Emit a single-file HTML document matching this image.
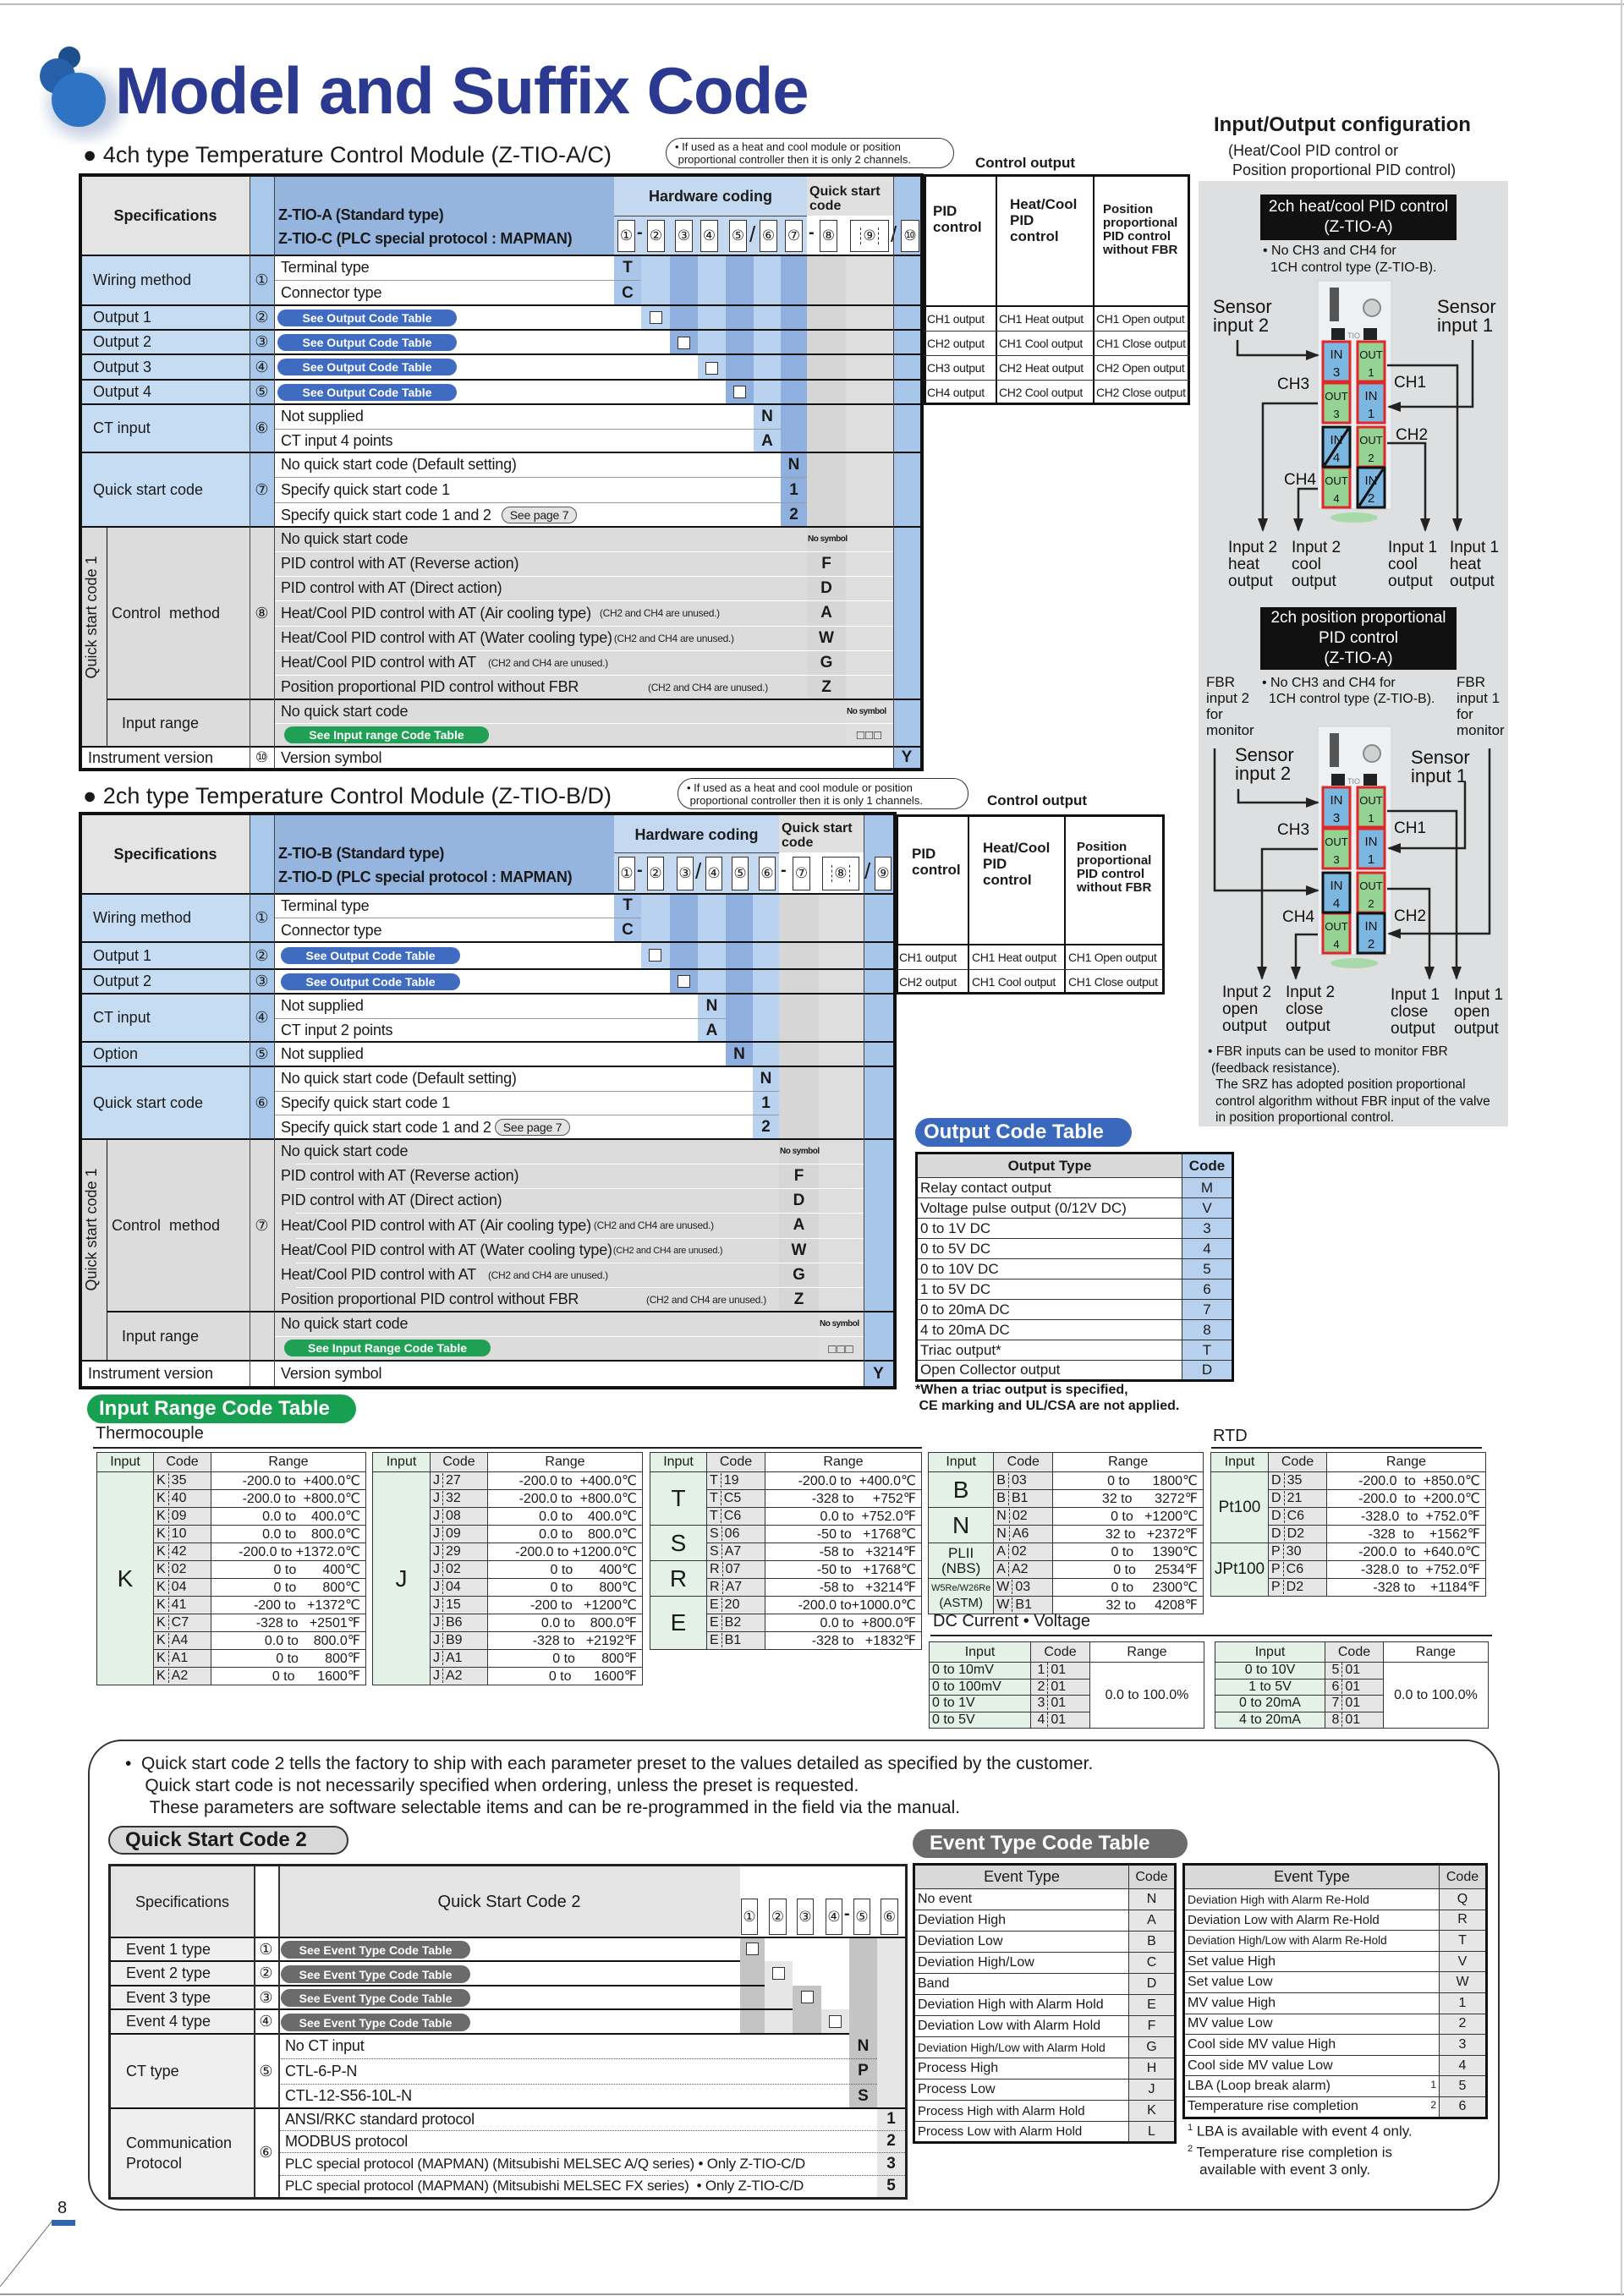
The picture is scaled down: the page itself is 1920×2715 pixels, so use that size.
<!DOCTYPE html>
<html><head><meta charset="utf-8">
<style>
*{margin:0;padding:0;box-sizing:border-box}
body{width:1920px;height:2715px;position:relative;background:#fff;font-family:"Liberation Sans","DejaVu Sans",sans-serif;color:#1a1a1a;overflow:hidden}
.c{position:absolute;display:flex;align-items:center;white-space:nowrap;overflow:hidden}
.x{justify-content:center;text-align:center}
.b{font-weight:bold}
.d{font-size:18px;padding-left:8px;letter-spacing:-.2px}
.s{font-size:18px;padding-left:14px}
.k{font-size:19px;font-weight:bold;justify-content:center}
.bx{position:absolute;width:15px;height:15px;border:1.5px solid #333;background:#fff}
.pill{position:absolute;border-radius:12px;color:#fff;font-weight:bold;font-size:14px;display:flex;align-items:center;justify-content:center;white-space:nowrap}
.hl{position:absolute;height:2px;background:#111}
.tl{position:absolute;height:1px;background:#9a9a9a}
.cn{position:absolute;background:#fff;border:1.5px solid #333;display:flex;align-items:center;justify-content:center;font-size:17px}
.sep{position:absolute;font-size:20px;font-weight:bold}
.w{background:#fff}
.g{background:#dcdcdc}
.ns{font-size:10px;letter-spacing:-.5px;overflow:visible;justify-content:flex-start;padding-left:1px}
.sm{font-size:12px;letter-spacing:-.3px;color:#222}
table{border-collapse:collapse;position:absolute;font-size:16px}
td{border:1px solid #333;white-space:nowrap;padding:0 3px;overflow:hidden}
.ig{background:#e3f1e6;text-align:center}
.cg{background:#e6e6e6}
.rg{text-align:right;padding-right:6px}
.dash{border-left:1px dashed #333;padding-left:3px;margin-left:3px}
.co{font-size:14px;line-height:29px;display:block;letter-spacing:-.3px}
</style></head><body>

<div style="position:absolute;left:0;top:4px;width:1920px;height:2px;background:#bbb"></div>
<div style="position:absolute;left:0;top:2712px;width:1920px;height:2px;background:#999"></div>
<div style="position:absolute;left:1916px;top:0;width:2px;height:2715px;background:#ccc"></div>

<svg style="position:absolute;left:0;top:0" width="200" height="200">
<defs><filter id="bl"><feGaussianBlur stdDeviation="8"/></filter></defs>
<ellipse cx="100" cy="125" rx="44" ry="38" fill="#8fa3c8" opacity=".5" filter="url(#bl)"/>
<circle cx="82" cy="68" r="13" fill="#1d4f8c"/>
<circle cx="68" cy="90" r="21" fill="#2660a8"/>
<circle cx="93" cy="118" r="32" fill="#2f74c4"/>
</svg>
<div style="position:absolute;left:136px;top:62px;font-size:78px;font-weight:bold;color:#2b3990;white-space:nowrap;letter-spacing:-1px">Model and Suffix Code</div>

<div style="position:absolute;left:98px;top:168px;font-size:27px;white-space:nowrap">● 4ch type Temperature Control Module (Z-TIO-A/C)</div>
<div style="position:absolute;left:787px;top:163px;width:341px;height:36px;border:1.5px solid #333;border-radius:18px;font-size:13px;line-height:15px;padding:2px 0 0 10px;white-space:nowrap">• If used as a heat and cool module or position<br>&nbsp;proportional controller then it is only 2 channels.</div>
<div style="position:absolute;left:1153px;top:183px;font-size:17px;font-weight:bold">Control output</div>

<!-- TABLE 1 -->
<div class="c x b" style="left:96px;top:208px;width:199px;height:94px;background:#e4e4e4;font-size:18px">Specifications</div>
<div class="c" style="left:295px;top:208px;width:29px;height:701px;background:#a9c8ea"></div>
<div class="c b" style="left:324px;top:208px;width:402px;height:94px;background:#95b5df;font-size:18px;padding-left:5px;line-height:28px;align-items:flex-end;padding-bottom:6px;letter-spacing:-.3px">Z-TIO-A (Standard type)<br>Z-TIO-C (PLC special protocol : MAPMAN)</div>
<div class="c x b" style="left:726px;top:208px;width:228px;height:94px;background:#c4d8f0;font-size:18px;align-items:flex-start;padding-top:14px">Hardware coding</div>
<div style="position:absolute;left:726px;top:255px;width:228px;height:1px;background:#444"></div>
<div class="c b" style="left:954px;top:208px;width:102px;height:94px;background:#e0e0e0;font-size:16px;line-height:17px;align-items:flex-start;padding:10px 0 0 3px">Quick start<br>code</div>
<div style="position:absolute;left:954px;top:255px;width:102px;height:47px;background:#fff"></div>
<div class="c" style="left:1056px;top:208px;width:32px;height:701px;background:#a7c6ea"></div>
<div class="c" style="left:726px;top:302px;width:32px;height:607px;background:#a9c5ea"></div>
<div class="c" style="left:758px;top:302px;width:34px;height:607px;background:#b9d2ef"></div>
<div class="c" style="left:792px;top:302px;width:33px;height:607px;background:#8fb0de"></div>
<div class="c" style="left:825px;top:302px;width:33px;height:607px;background:#b9d2ef"></div>
<div class="c" style="left:858px;top:302px;width:33px;height:607px;background:#8fb0de"></div>
<div class="c" style="left:891px;top:302px;width:32px;height:607px;background:#b9d2ef"></div>
<div class="c" style="left:923px;top:302px;width:31px;height:607px;background:#8fb0de"></div>
<div class="c" style="left:954px;top:302px;width:46px;height:607px;background:#d6d6d6"></div>
<div class="c" style="left:1000px;top:302px;width:56px;height:607px;background:#dedede"></div>
<div class="cn" style="left:730px;top:260px;width:21px;height:38px">①</div>
<div class="sep" style="left:753px;top:264px">-</div>
<div class="cn" style="left:765px;top:260px;width:21px;height:38px">②</div>
<div class="cn" style="left:798px;top:260px;width:21px;height:38px">③</div>
<div class="cn" style="left:828px;top:260px;width:21px;height:38px">④</div>
<div class="cn" style="left:862px;top:260px;width:21px;height:38px">⑤</div>
<div class="sep" style="left:886px;top:262px;font-size:26px;font-weight:normal">/</div>
<div class="cn" style="left:898px;top:260px;width:21px;height:38px">⑥</div>
<div class="cn" style="left:928px;top:260px;width:21px;height:38px">⑦</div>
<div class="sep" style="left:956px;top:264px">-</div>
<div class="cn" style="left:969px;top:260px;width:21px;height:38px">⑧</div>
<div class="cn" style="left:1005px;top:260px;width:46px;height:38px"><span style="border-left:1px dashed #333;border-right:1px dashed #333;padding:0 2px">⑨</span></div>
<div class="sep" style="left:1053px;top:262px;font-size:26px;font-weight:normal">/</div>
<div class="cn" style="left:1065px;top:260px;width:22px;height:38px;font-size:17px">⑩</div>

<div class="c s" style="left:96px;top:302px;width:199px;height:59px;background:#c6dcf2">Wiring method</div>
<div class="c x" style="left:295px;top:302px;width:29px;height:59px;font-size:18px">①</div>
<div class="c d w" style="left:324px;top:302px;width:402px;height:29px">Terminal type</div>
<div class="c k" style="left:726px;top:302px;width:32px;height:29px">T</div>
<div class="tl" style="left:324px;top:331px;width:434px"></div>
<div class="c d w" style="left:324px;top:332px;width:402px;height:29px">Connector type</div>
<div class="c k" style="left:726px;top:332px;width:32px;height:29px">C</div>
<div class="c s" style="left:96px;top:361px;width:199px;height:29px;background:#c6dcf2">Output 1</div>
<div class="c x" style="left:295px;top:361px;width:29px;height:29px;font-size:18px">②</div>
<div class="c w" style="left:324px;top:361px;width:434px;height:29px"></div>
<div class="pill" style="left:328px;top:366px;width:212px;height:20px;background:#3f6cc0">See Output Code Table</div>
<div class="bx" style="left:768px;top:368px"></div>
<div class="c s" style="left:96px;top:390px;width:199px;height:29px;background:#c6dcf2">Output 2</div>
<div class="c x" style="left:295px;top:390px;width:29px;height:29px;font-size:18px">③</div>
<div class="c w" style="left:324px;top:390px;width:468px;height:29px"></div>
<div class="pill" style="left:328px;top:395px;width:212px;height:20px;background:#3f6cc0">See Output Code Table</div>
<div class="bx" style="left:801px;top:398px"></div>
<div class="c s" style="left:96px;top:419px;width:199px;height:30px;background:#c6dcf2">Output 3</div>
<div class="c x" style="left:295px;top:419px;width:29px;height:30px;font-size:18px">④</div>
<div class="c w" style="left:324px;top:419px;width:501px;height:30px"></div>
<div class="pill" style="left:328px;top:424px;width:212px;height:20px;background:#3f6cc0">See Output Code Table</div>
<div class="bx" style="left:834px;top:428px"></div>
<div class="c s" style="left:96px;top:449px;width:199px;height:29px;background:#c6dcf2">Output 4</div>
<div class="c x" style="left:295px;top:449px;width:29px;height:29px;font-size:18px">⑤</div>
<div class="c w" style="left:324px;top:449px;width:534px;height:29px"></div>
<div class="pill" style="left:328px;top:454px;width:212px;height:20px;background:#3f6cc0">See Output Code Table</div>
<div class="bx" style="left:867px;top:456px"></div>
<div class="c s" style="left:96px;top:478px;width:199px;height:57px;background:#c6dcf2">CT input</div>
<div class="c x" style="left:295px;top:478px;width:29px;height:57px;font-size:18px">⑥</div>
<div class="c d w" style="left:324px;top:478px;width:567px;height:29px">Not supplied</div>
<div class="c k" style="left:891px;top:478px;width:32px;height:29px">N</div>
<div class="tl" style="left:324px;top:507px;width:599px"></div>
<div class="c d w" style="left:324px;top:508px;width:567px;height:27px">CT input 4 points</div>
<div class="c k" style="left:891px;top:508px;width:32px;height:27px">A</div>
<div class="c s" style="left:96px;top:535px;width:199px;height:88px;background:#c6dcf2">Quick start code</div>
<div class="c x" style="left:295px;top:535px;width:29px;height:88px;font-size:18px">⑦</div>
<div class="c d w" style="left:324px;top:535px;width:599px;height:29px">No quick start code (Default setting)</div>
<div class="c k" style="left:923px;top:535px;width:31px;height:29px">N</div>
<div class="tl" style="left:324px;top:564px;width:630px"></div>
<div class="c d w" style="left:324px;top:565px;width:599px;height:29px">Specify quick start code 1</div>
<div class="c k" style="left:923px;top:565px;width:31px;height:29px">1</div>
<div class="tl" style="left:324px;top:594px;width:630px"></div>
<div class="c d w" style="left:324px;top:595px;width:599px;height:28px">Specify quick start code 1 and 2 <span style="margin-left:12px;font-size:14px;border:1px solid #555;border-radius:10px;background:#e4e4e4;padding:1px 9px">See page 7</span></div>
<div class="c k" style="left:923px;top:595px;width:31px;height:28px">2</div>
<div class="c g" style="left:96px;top:623px;width:30px;height:260px"></div>
<div style="position:absolute;left:98px;top:860px;width:260px;height:26px;transform:rotate(-90deg);transform-origin:0 0;font-size:18px;text-align:center;white-space:nowrap">Quick start code 1</div>
<div class="c g" style="left:126px;top:623px;width:169px;height:204px;font-size:18px;padding-left:6px">Control&nbsp; method</div>
<div class="c x g" style="left:295px;top:623px;width:29px;height:286px;align-items:flex-start;padding-top:92px;font-size:18px">⑧</div>
<div class="c g" style="left:324px;top:623px;width:630px;height:204px"></div>
<div class="c d" style="left:324px;top:623px;width:630px;height:29px">No quick start code</div>
<div class="c b ns" style="left:954px;top:623px;width:46px;height:29px">No symbol</div>
<div class="c d" style="left:324px;top:652px;width:630px;height:29px">PID control with AT (Reverse action)</div>
<div class="c k" style="left:954px;top:652px;width:46px;height:29px">F</div>
<div class="c d" style="left:324px;top:681px;width:630px;height:29px">PID control with AT (Direct action)</div>
<div class="c k" style="left:954px;top:681px;width:46px;height:29px">D</div>
<div class="c d" style="left:324px;top:710px;width:630px;height:30px">Heat/Cool PID control with AT (Air cooling type) <span class="sm" style="margin-left:10px">(CH2 and CH4 are unused.)</span></div>
<div class="c k" style="left:954px;top:710px;width:46px;height:30px">A</div>
<div class="c d" style="left:324px;top:740px;width:630px;height:29px">Heat/Cool PID control with AT (Water cooling type)<span class="sm" style="margin-left:2px">(CH2 and CH4 are unused.)</span></div>
<div class="c k" style="left:954px;top:740px;width:46px;height:29px">W</div>
<div class="c d" style="left:324px;top:769px;width:630px;height:29px">Heat/Cool PID control with AT <span class="sm" style="margin-left:14px">(CH2 and CH4 are unused.)</span></div>
<div class="c k" style="left:954px;top:769px;width:46px;height:29px">G</div>
<div class="c d" style="left:324px;top:798px;width:630px;height:29px">Position proportional PID control without FBR <span class="sm" style="position:absolute;left:442px">(CH2 and CH4 are unused.)</span></div>
<div class="c k" style="left:954px;top:798px;width:46px;height:29px">Z</div>
<div class="tl" style="left:324px;top:652px;width:732px;background:#fff"></div>
<div class="tl" style="left:324px;top:681px;width:732px;background:#fff"></div>
<div class="tl" style="left:324px;top:710px;width:732px;background:#fff"></div>
<div class="tl" style="left:324px;top:740px;width:732px;background:#fff"></div>
<div class="tl" style="left:324px;top:769px;width:732px;background:#fff"></div>
<div class="tl" style="left:324px;top:798px;width:732px;background:#fff"></div>
<div class="c g" style="left:126px;top:827px;width:169px;height:56px;font-size:18px;padding-left:18px">Input range</div>
<div class="c g" style="left:324px;top:827px;width:676px;height:56px"></div>
<div class="c d" style="left:324px;top:827px;width:676px;height:28px">No quick start code</div>
<div class="c b ns" style="left:1000px;top:827px;width:56px;height:28px">No symbol</div>
<div class="tl" style="left:324px;top:855px;width:732px;background:#fff"></div>
<div class="pill" style="left:336px;top:859px;width:242px;height:20px;background:#1fa055">See Input range Code Table</div>
<div class="c x" style="left:1000px;top:856px;width:56px;height:27px;font-size:15px;letter-spacing:1px">□□□</div>
<div class="c w" style="left:96px;top:883px;width:199px;height:26px;font-size:18px;padding-left:8px">Instrument version</div>
<div class="c x w" style="left:295px;top:883px;width:29px;height:26px;font-size:17px">⑩</div>
<div class="c d w" style="left:324px;top:883px;width:732px;height:26px">Version symbol</div>
<div class="c k" style="left:1056px;top:883px;width:32px;height:26px">Y</div>
<div class="hl" style="left:96px;top:301px;width:992px"></div>
<div class="hl" style="left:96px;top:360px;width:992px"></div>
<div class="hl" style="left:96px;top:389px;width:992px"></div>
<div class="hl" style="left:96px;top:418px;width:992px"></div>
<div class="hl" style="left:96px;top:448px;width:992px"></div>
<div class="hl" style="left:96px;top:477px;width:992px"></div>
<div class="hl" style="left:96px;top:534px;width:992px"></div>
<div class="hl" style="left:96px;top:622px;width:992px"></div>
<div class="hl" style="left:126px;top:826px;width:962px"></div>
<div class="hl" style="left:96px;top:882px;width:992px"></div>
<div style="position:absolute;left:126px;top:623px;width:1px;height:260px;background:#111"></div>
<div style="position:absolute;left:295px;top:208px;width:1px;height:701px;background:#444"></div>
<div style="position:absolute;left:324px;top:208px;width:1px;height:701px;background:#444"></div>
<div style="position:absolute;left:1056px;top:208px;width:1px;height:701px;background:#444"></div>
<div style="position:absolute;left:93px;top:205px;width:999px;height:707px;border:4px solid #111"></div>

<div style="position:absolute;left:1092px;top:206px;width:315px;height:273px;border:3px solid #111"></div>
<div class="c b" style="left:1103px;top:240px;font-size:17px;line-height:19px">PID<br>control</div>
<div class="c b" style="left:1194px;top:232px;font-size:17px;line-height:19px">Heat/Cool<br>PID<br>control</div>
<div class="c b" style="left:1304px;top:240px;font-size:15px;line-height:16px">Position<br>proportional<br>PID control<br>without FBR</div>
<div style="position:absolute;left:1177px;top:206px;width:2px;height:273px;background:#111"></div>
<div style="position:absolute;left:1292px;top:206px;width:2px;height:273px;background:#111"></div>
<div class="hl" style="left:1092px;top:361px;width:315px"></div>
<div class="tl" style="left:1092px;top:391px;width:315px;background:#333"></div>
<div class="tl" style="left:1092px;top:420px;width:315px;background:#333"></div>
<div class="tl" style="left:1092px;top:449px;width:315px;background:#333"></div>
<div class="c co" style="left:1096px;top:363px">CH1 output<br>CH2 output<br>CH3 output<br>CH4 output</div>
<div class="c co" style="left:1181px;top:363px">CH1 Heat output<br>CH1 Cool output<br>CH2 Heat output<br>CH2 Cool output</div>
<div class="c co" style="left:1296px;top:363px">CH1 Open output<br>CH1 Close output<br>CH2 Open output<br>CH2 Close output</div>

<div style="position:absolute;left:98px;top:926px;font-size:27px;white-space:nowrap">● 2ch type Temperature Control Module (Z-TIO-B/D)</div>
<div style="position:absolute;left:801px;top:920px;width:344px;height:37px;border:1.5px solid #333;border-radius:18px;font-size:13px;line-height:15px;padding:3px 0 0 10px;white-space:nowrap">• If used as a heat and cool module or position<br>&nbsp;proportional controller then it is only 1 channels.</div>
<div style="position:absolute;left:1167px;top:937px;font-size:17px;font-weight:bold">Control output</div>

<!-- TABLE 2 -->
<div class="c x b" style="left:96px;top:963px;width:199px;height:94px;background:#e4e4e4;font-size:18px">Specifications</div>
<div class="c" style="left:295px;top:963px;width:29px;height:677px;background:#a9c8ea"></div>
<div class="c b" style="left:324px;top:963px;width:402px;height:94px;background:#95b5df;font-size:18px;padding-left:5px;line-height:28px;align-items:flex-end;padding-bottom:6px;letter-spacing:-.3px">Z-TIO-B (Standard type)<br>Z-TIO-D (PLC special protocol : MAPMAN)</div>
<div class="c x b" style="left:726px;top:963px;width:195px;height:94px;background:#c4d8f0;font-size:18px;align-items:flex-start;padding-top:14px">Hardware coding</div>
<div style="position:absolute;left:726px;top:1008px;width:195px;height:1px;background:#444"></div>
<div class="c b" style="left:921px;top:963px;width:100px;height:94px;background:#e0e0e0;font-size:16px;line-height:17px;align-items:flex-start;padding:8px 0 0 3px">Quick start<br>code</div>
<div style="position:absolute;left:921px;top:1008px;width:100px;height:49px;background:#fff"></div>
<div class="c" style="left:1021px;top:963px;width:35px;height:677px;background:#a7c6ea"></div>
<div class="c" style="left:726px;top:1057px;width:32px;height:583px;background:#a9c5ea"></div>
<div class="c" style="left:758px;top:1057px;width:34px;height:583px;background:#b9d2ef"></div>
<div class="c" style="left:792px;top:1057px;width:33px;height:583px;background:#8fb0de"></div>
<div class="c" style="left:825px;top:1057px;width:33px;height:583px;background:#b9d2ef"></div>
<div class="c" style="left:858px;top:1057px;width:32px;height:583px;background:#8fb0de"></div>
<div class="c" style="left:890px;top:1057px;width:31px;height:583px;background:#b9d2ef"></div>
<div class="c" style="left:921px;top:1057px;width:47px;height:583px;background:#d6d6d6"></div>
<div class="c" style="left:968px;top:1057px;width:53px;height:583px;background:#dedede"></div>
<div class="cn" style="left:731px;top:1013px;width:20px;height:40px">①</div>
<div class="sep" style="left:753px;top:1018px">-</div>
<div class="cn" style="left:765px;top:1013px;width:20px;height:40px">②</div>
<div class="cn" style="left:800px;top:1013px;width:20px;height:40px">③</div>
<div class="sep" style="left:822px;top:1015px;font-size:26px;font-weight:normal">/</div>
<div class="cn" style="left:834px;top:1013px;width:20px;height:40px">④</div>
<div class="cn" style="left:865px;top:1013px;width:20px;height:40px">⑤</div>
<div class="cn" style="left:897px;top:1013px;width:20px;height:40px">⑥</div>
<div class="sep" style="left:923px;top:1018px">-</div>
<div class="cn" style="left:937px;top:1013px;width:21px;height:40px">⑦</div>
<div class="cn" style="left:972px;top:1013px;width:44px;height:40px"><span style="border-left:1px dashed #333;border-right:1px dashed #333;padding:0 2px">⑧</span></div>
<div class="sep" style="left:1022px;top:1015px;font-size:26px;font-weight:normal">/</div>
<div class="cn" style="left:1034px;top:1013px;width:20px;height:40px">⑨</div>
<div class="c s" style="left:96px;top:1057px;width:199px;height:57px;background:#c6dcf2">Wiring method</div>
<div class="c x" style="left:295px;top:1057px;width:29px;height:57px;font-size:18px">①</div>
<div class="c d w" style="left:324px;top:1057px;width:402px;height:28px">Terminal type</div>
<div class="c k" style="left:726px;top:1057px;width:32px;height:28px">T</div>
<div class="tl" style="left:324px;top:1085px;width:434px"></div>
<div class="c d w" style="left:324px;top:1086px;width:402px;height:28px">Connector type</div>
<div class="c k" style="left:726px;top:1086px;width:32px;height:28px">C</div>
<div class="c s" style="left:96px;top:1114px;width:199px;height:32px;background:#c6dcf2">Output 1</div>
<div class="c x" style="left:295px;top:1114px;width:29px;height:32px;font-size:18px">②</div>
<div class="c w" style="left:324px;top:1114px;width:434px;height:32px"></div>
<div class="pill" style="left:332px;top:1120px;width:212px;height:20px;background:#3f6cc0">See Output Code Table</div>
<div class="bx" style="left:767px;top:1122px"></div>
<div class="c s" style="left:96px;top:1146px;width:199px;height:29px;background:#c6dcf2">Output 2</div>
<div class="c x" style="left:295px;top:1146px;width:29px;height:29px;font-size:18px">③</div>
<div class="c w" style="left:324px;top:1146px;width:468px;height:29px"></div>
<div class="pill" style="left:332px;top:1151px;width:212px;height:20px;background:#3f6cc0">See Output Code Table</div>
<div class="bx" style="left:801px;top:1153px"></div>
<div class="c s" style="left:96px;top:1175px;width:199px;height:57px;background:#c6dcf2">CT input</div>
<div class="c x" style="left:295px;top:1175px;width:29px;height:57px;font-size:18px">④</div>
<div class="c d w" style="left:324px;top:1175px;width:501px;height:29px">Not supplied</div>
<div class="c k" style="left:825px;top:1175px;width:33px;height:29px">N</div>
<div class="tl" style="left:324px;top:1204px;width:534px"></div>
<div class="c d w" style="left:324px;top:1205px;width:501px;height:27px">CT input 2 points</div>
<div class="c k" style="left:825px;top:1205px;width:33px;height:27px">A</div>
<div class="c s" style="left:96px;top:1232px;width:199px;height:29px;background:#c6dcf2">Option</div>
<div class="c x" style="left:295px;top:1232px;width:29px;height:29px;font-size:18px">⑤</div>
<div class="c d w" style="left:324px;top:1232px;width:534px;height:29px">Not supplied</div>
<div class="c k" style="left:858px;top:1232px;width:32px;height:29px">N</div>
<div class="c s" style="left:96px;top:1261px;width:199px;height:86px;background:#c6dcf2">Quick start code</div>
<div class="c x" style="left:295px;top:1261px;width:29px;height:86px;font-size:18px">⑥</div>
<div class="c d w" style="left:324px;top:1261px;width:566px;height:29px">No quick start code (Default setting)</div>
<div class="c k" style="left:890px;top:1261px;width:31px;height:29px">N</div>
<div class="tl" style="left:324px;top:1290px;width:597px"></div>
<div class="c d w" style="left:324px;top:1291px;width:566px;height:27px">Specify quick start code 1</div>
<div class="c k" style="left:890px;top:1291px;width:31px;height:27px">1</div>
<div class="tl" style="left:324px;top:1318px;width:597px"></div>
<div class="c d w" style="left:324px;top:1319px;width:566px;height:28px">Specify quick start code 1 and 2<span style="margin-left:4px;font-size:14px;border:1px solid #555;border-radius:10px;background:#e4e4e4;padding:1px 9px">See page 7</span></div>
<div class="c k" style="left:890px;top:1319px;width:31px;height:28px">2</div>
<div class="c g" style="left:96px;top:1347px;width:30px;height:262px"></div>
<div style="position:absolute;left:98px;top:1585px;width:262px;height:26px;transform:rotate(-90deg);transform-origin:0 0;font-size:18px;text-align:center;white-space:nowrap">Quick start code 1</div>
<div class="c g" style="left:126px;top:1347px;width:169px;height:204px;font-size:18px;padding-left:6px">Control&nbsp; method</div>
<div class="c x g" style="left:295px;top:1347px;width:29px;height:262px;align-items:flex-start;padding-top:92px;font-size:18px">⑦</div>
<div class="c g" style="left:324px;top:1347px;width:597px;height:204px"></div>
<div class="c d" style="left:324px;top:1347px;width:597px;height:29px">No quick start code</div>
<div class="c b ns" style="left:921px;top:1347px;width:47px;height:29px">No symbol</div>
<div class="c d" style="left:324px;top:1376px;width:597px;height:29px">PID control with AT (Reverse action)</div>
<div class="c k" style="left:921px;top:1376px;width:47px;height:29px">F</div>
<div class="c d" style="left:324px;top:1405px;width:597px;height:29px">PID control with AT (Direct action)</div>
<div class="c k" style="left:921px;top:1405px;width:47px;height:29px">D</div>
<div class="c d" style="left:324px;top:1434px;width:597px;height:30px">Heat/Cool PID control with AT (Air cooling type) <span class="sm" style="margin-left:3px">(CH2 and CH4 are unused.)</span></div>
<div class="c k" style="left:921px;top:1434px;width:47px;height:30px">A</div>
<div class="c d" style="left:324px;top:1464px;width:597px;height:29px">Heat/Cool PID control with AT (Water cooling type)<span class="sm" style="margin-left:1px;font-size:11px">(CH2 and CH4 are unused.)</span></div>
<div class="c k" style="left:921px;top:1464px;width:47px;height:29px">W</div>
<div class="c d" style="left:324px;top:1493px;width:597px;height:29px">Heat/Cool PID control with AT <span class="sm" style="margin-left:14px">(CH2 and CH4 are unused.)</span></div>
<div class="c k" style="left:921px;top:1493px;width:47px;height:29px">G</div>
<div class="c d" style="left:324px;top:1522px;width:597px;height:29px">Position proportional PID control without FBR <span class="sm" style="position:absolute;left:440px">(CH2 and CH4 are unused.)</span></div>
<div class="c k" style="left:921px;top:1522px;width:47px;height:29px">Z</div>
<div class="tl" style="left:350px;top:1376px;width:671px;background:#fff"></div>
<div class="tl" style="left:350px;top:1405px;width:671px;background:#fff"></div>
<div class="tl" style="left:350px;top:1434px;width:671px;background:#fff"></div>
<div class="tl" style="left:350px;top:1464px;width:671px;background:#fff"></div>
<div class="tl" style="left:350px;top:1493px;width:671px;background:#fff"></div>
<div class="tl" style="left:350px;top:1522px;width:671px;background:#fff"></div>
<div class="c g" style="left:126px;top:1551px;width:169px;height:58px;font-size:18px;padding-left:18px">Input range</div>
<div class="c g" style="left:324px;top:1551px;width:644px;height:58px"></div>
<div class="c d" style="left:324px;top:1551px;width:644px;height:29px">No quick start code</div>
<div class="c b ns" style="left:968px;top:1551px;width:53px;height:29px">No symbol</div>
<div class="tl" style="left:324px;top:1580px;width:697px;background:#fff"></div>
<div class="pill" style="left:336px;top:1584px;width:244px;height:20px;background:#1fa055">See Input Range Code Table</div>
<div class="c x" style="left:968px;top:1581px;width:53px;height:28px;font-size:15px;letter-spacing:1px">□□□</div>
<div class="c w" style="left:96px;top:1609px;width:199px;height:31px;font-size:18px;padding-left:8px">Instrument version</div>
<div class="c w" style="left:295px;top:1609px;width:29px;height:31px"></div>
<div class="c d w" style="left:324px;top:1609px;width:697px;height:31px">Version symbol</div>
<div class="c k" style="left:1021px;top:1609px;width:35px;height:31px">Y</div>
<div class="hl" style="left:96px;top:1056px;width:960px"></div>
<div class="hl" style="left:96px;top:1113px;width:960px"></div>
<div class="hl" style="left:96px;top:1145px;width:960px"></div>
<div class="hl" style="left:96px;top:1174px;width:960px"></div>
<div class="hl" style="left:96px;top:1231px;width:960px"></div>
<div class="hl" style="left:96px;top:1260px;width:960px"></div>
<div class="hl" style="left:96px;top:1346px;width:960px"></div>
<div class="hl" style="left:126px;top:1550px;width:930px"></div>
<div class="hl" style="left:96px;top:1608px;width:960px"></div>
<div style="position:absolute;left:126px;top:1347px;width:1px;height:262px;background:#111"></div>
<div style="position:absolute;left:295px;top:963px;width:1px;height:677px;background:#444"></div>
<div style="position:absolute;left:324px;top:963px;width:1px;height:677px;background:#444"></div>
<div style="position:absolute;left:1021px;top:963px;width:1px;height:677px;background:#444"></div>
<div style="position:absolute;left:93px;top:960px;width:967px;height:683px;border:4px solid #111"></div>

<div style="position:absolute;left:1059px;top:963px;width:318px;height:213px;border:3px solid #111"></div>
<div class="c b" style="left:1078px;top:1000px;font-size:17px;line-height:19px">PID<br>control</div>
<div class="c b" style="left:1162px;top:993px;font-size:17px;line-height:19px">Heat/Cool<br>PID<br>control</div>
<div class="c b" style="left:1273px;top:994px;font-size:15px;line-height:16px">Position<br>proportional<br>PID control<br>without FBR</div>
<div style="position:absolute;left:1144px;top:963px;width:2px;height:213px;background:#111"></div>
<div style="position:absolute;left:1258px;top:963px;width:2px;height:213px;background:#111"></div>
<div class="hl" style="left:1059px;top:1116px;width:318px"></div>
<div class="tl" style="left:1059px;top:1146px;width:318px;background:#333"></div>
<div class="c co" style="left:1063px;top:1118px">CH1 output<br>CH2 output</div>
<div class="c co" style="left:1149px;top:1118px">CH1 Heat output<br>CH1 Cool output</div>
<div class="c co" style="left:1263px;top:1118px">CH1 Open output<br>CH1 Close output</div>

<!-- RIGHT PANEL -->
<div style="position:absolute;left:1417px;top:214px;width:366px;height:1118px;background:#dedfe0"></div>
<div style="position:absolute;left:1435px;top:134px;font-size:24px;font-weight:bold;white-space:nowrap">Input/Output configuration</div>
<div style="position:absolute;left:1452px;top:167px;font-size:18px;line-height:23px;white-space:nowrap">(Heat/Cool PID control or<br>&nbsp;Position proportional PID control)</div>
<div class="c x" style="left:1490px;top:230px;width:232px;height:54px;background:#111;color:#fff;font-size:19px;line-height:24px">2ch heat/cool PID control<br>(Z-TIO-A)</div>
<div class="c x" style="left:1490px;top:718px;width:232px;height:74px;background:#111;color:#fff;font-size:19px;line-height:24px">2ch position proportional<br>PID control<br>(Z-TIO-A)</div>

<svg style="position:absolute;left:0;top:0" width="1920" height="1340" font-family="Liberation Sans, sans-serif">
<defs>
<marker id="ar2" markerWidth="16" markerHeight="12" refX="14" refY="6" orient="auto" markerUnits="userSpaceOnUse"><path d="M0,0 L16,6 L0,12 z" fill="#222"/></marker>
<g id="dev">
<rect x="1558" y="332" width="87" height="270" fill="#eef1f4" stroke="#cfd3d8"/>
<rect x="1572" y="340" width="11" height="40" fill="#555"/>
<circle cx="1622" cy="364" r="10" fill="#cfd0d0" stroke="#888" stroke-width="2"/>
<rect x="1574" y="388" width="16" height="14" fill="#222"/>
<rect x="1612" y="388" width="16" height="14" fill="#222"/>
<text x="1593" y="400" font-size="9" fill="#888">TIO</text>
<g stroke="#e02828" stroke-width="3">
<rect x="1564" y="404" width="32" height="47" fill="#7cb7e2"/>
<rect x="1605" y="404" width="32" height="47" fill="#94d394"/>
<rect x="1564" y="453" width="32" height="47" fill="#94d394"/>
<rect x="1605" y="453" width="32" height="47" fill="#7cb7e2"/>
<rect x="1564" y="505" width="32" height="47" fill="#7cb7e2"/>
<rect x="1605" y="505" width="32" height="47" fill="#94d394"/>
<rect x="1564" y="553" width="32" height="47" fill="#94d394"/>
<rect x="1605" y="553" width="32" height="47" fill="#7cb7e2"/>
</g>
<g font-size="15" text-anchor="middle" fill="#111">
<text x="1580" y="424">IN</text><text x="1580" y="445">3</text>
<text x="1621" y="424" font-size="13">OUT</text><text x="1621" y="445" font-size="13">1</text>
<text x="1580" y="473" font-size="13">OUT</text><text x="1580" y="494" font-size="13">3</text>
<text x="1621" y="473">IN</text><text x="1621" y="494">1</text>
<text x="1580" y="525">IN</text><text x="1580" y="546">4</text>
<text x="1621" y="525" font-size="13">OUT</text><text x="1621" y="546" font-size="13">2</text>
<text x="1580" y="573" font-size="13">OUT</text><text x="1580" y="594" font-size="13">4</text>
<text x="1621" y="573">IN</text><text x="1621" y="594">2</text>
</g>
<ellipse cx="1601" cy="612" rx="28" ry="6" fill="#a9d8a9"/>
</g>
</defs>
<use href="#dev"/>
<g fill="none" stroke="#111" stroke-width="3">
<rect x="1564" y="505" width="32" height="47"/><line x1="1566" y1="550" x2="1594" y2="507"/>
<rect x="1605" y="553" width="32" height="47"/><line x1="1607" y1="598" x2="1635" y2="555"/>
</g>
<g fill="none" stroke="#222" stroke-width="2.5">
<path d="M1463 402 V420 H1558" marker-end="url(#ar2)"/>
<path d="M1741 402 V481 H1642" marker-end="url(#ar2)"/>
<path d="M1640 432 H1723 V627" marker-end="url(#ar2)"/>
<path d="M1558 477 H1493 V627" marker-end="url(#ar2)"/>
<path d="M1640 524 H1685 V627" marker-end="url(#ar2)"/>
<path d="M1558 578 H1535 V627" marker-end="url(#ar2)"/>
</g>
<g font-size="22" fill="#111">
<text x="1434" y="370">Sensor</text><text x="1434" y="392">input 2</text>
<text x="1699" y="370">Sensor</text><text x="1699" y="392">input 1</text>
</g>
<g font-size="19" fill="#111">
<text x="1510" y="460">CH3</text><text x="1648" y="458">CH1</text>
<text x="1650" y="520">CH2</text><text x="1518" y="573">CH4</text>
</g>
<g font-size="19" fill="#111">
<text x="1452" y="653">Input 2</text><text x="1452" y="673">heat</text><text x="1452" y="693">output</text>
<text x="1527" y="653">Input 2</text><text x="1527" y="673">cool</text><text x="1527" y="693">output</text>
<text x="1641" y="653">Input 1</text><text x="1641" y="673">cool</text><text x="1641" y="693">output</text>
<text x="1714" y="653">Input 1</text><text x="1714" y="673">heat</text><text x="1714" y="693">output</text>
</g>
<g font-size="16" fill="#111">
<text x="1493" y="301">• No CH3 and CH4 for</text><text x="1502" y="321">1CH control type (Z-TIO-B).</text>
</g>
<use href="#dev" transform="translate(0,527)"/>
<g fill="none" stroke="#111" stroke-width="3">
<rect x="1564" y="1032" width="32" height="47"/>
<rect x="1605" y="1080" width="32" height="47"/>
</g>
<g fill="none" stroke="#222" stroke-width="2.5">
<path d="M1464 933 V949 H1558" marker-end="url(#ar2)"/>
<path d="M1436 885 V1053 H1558" marker-end="url(#ar2)"/>
<path d="M1732 925 V1003 H1642" marker-end="url(#ar2)"/>
<path d="M1761 885 V1104 H1642" marker-end="url(#ar2)"/>
<path d="M1640 959 H1722 V1157" marker-end="url(#ar2)"/>
<path d="M1558 1004 H1492 V1157" marker-end="url(#ar2)"/>
<path d="M1640 1051 H1690 V1157" marker-end="url(#ar2)"/>
<path d="M1558 1105 H1532 V1157" marker-end="url(#ar2)"/>
</g>
<g font-size="17" fill="#111">
<text x="1426" y="812">FBR</text><text x="1426" y="831">input 2</text><text x="1426" y="850">for</text><text x="1426" y="869">monitor</text>
<text x="1722" y="812">FBR</text><text x="1722" y="831">input 1</text><text x="1722" y="850">for</text><text x="1722" y="869">monitor</text>
<text x="1492" y="812" font-size="16">• No CH3 and CH4 for</text><text x="1500" y="831" font-size="16">1CH control type (Z-TIO-B).</text>
</g>
<g font-size="22" fill="#111">
<text x="1460" y="900">Sensor</text><text x="1460" y="922">input 2</text>
<text x="1668" y="903">Sensor</text><text x="1668" y="925">input 1</text>
</g>
<g font-size="19" fill="#111">
<text x="1510" y="987">CH3</text><text x="1648" y="985">CH1</text>
<text x="1648" y="1089">CH2</text><text x="1516" y="1090">CH4</text>
</g>
<g font-size="19" fill="#111">
<text x="1445" y="1179">Input 2</text><text x="1445" y="1199">open</text><text x="1445" y="1219">output</text>
<text x="1520" y="1179">Input 2</text><text x="1520" y="1199">close</text><text x="1520" y="1219">output</text>
<text x="1644" y="1182">Input 1</text><text x="1644" y="1202">close</text><text x="1644" y="1222">output</text>
<text x="1719" y="1182">Input 1</text><text x="1719" y="1202">open</text><text x="1719" y="1222">output</text>
</g>
<g font-size="15.5" fill="#111">
<text x="1428" y="1248">• FBR inputs can be used to monitor FBR</text>
<text x="1432" y="1268">(feedback resistance).</text>
<text x="1437" y="1287">The SRZ has adopted position proportional</text>
<text x="1437" y="1307">control algorithm without FBR input of the valve</text>
<text x="1437" y="1326">in position proportional control.</text>
</g>
</svg>

<!-- OUTPUT CODE TABLE -->
<div class="c b" style="left:1082px;top:1322px;width:256px;height:34px;background:#3a68bd;color:#fff;font-size:24px;border-radius:17px;padding-left:10px">Output Code Table</div>
<table style="left:1082px;top:1362px;width:377px;border:3px solid #111;font-size:17px">
<tr style="height:29px"><td class="b" style="background:#d9d9d9;text-align:center">Output Type</td><td class="b" style="background:#b7d0ee;text-align:center;width:60px">Code</td></tr>
<tr style="height:24px"><td>Relay contact output</td><td style="background:#b7d0ee;text-align:center">M</td></tr>
<tr style="height:24px"><td>Voltage pulse output (0/12V DC)</td><td style="background:#b7d0ee;text-align:center">V</td></tr>
<tr style="height:24px"><td>0 to 1V DC</td><td style="background:#b7d0ee;text-align:center">3</td></tr>
<tr style="height:24px"><td>0 to 5V DC</td><td style="background:#b7d0ee;text-align:center">4</td></tr>
<tr style="height:24px"><td>0 to 10V DC</td><td style="background:#b7d0ee;text-align:center">5</td></tr>
<tr style="height:24px"><td>1 to 5V DC</td><td style="background:#b7d0ee;text-align:center">6</td></tr>
<tr style="height:24px"><td>0 to 20mA DC</td><td style="background:#b7d0ee;text-align:center">7</td></tr>
<tr style="height:24px"><td>4 to 20mA DC</td><td style="background:#b7d0ee;text-align:center">8</td></tr>
<tr style="height:24px"><td>Triac output*</td><td style="background:#b7d0ee;text-align:center">T</td></tr>
<tr style="height:24px"><td>Open Collector output</td><td style="background:#b7d0ee;text-align:center">D</td></tr>
</table>
<div style="position:absolute;left:1082px;top:1634px;font-size:16px;font-weight:bold;line-height:19px;white-space:nowrap">*When a triac output is specified,<br>&nbsp;CE marking and UL/CSA are not applied.</div>

<!-- INPUT RANGE -->
<div class="c b" style="left:103px;top:1649px;width:318px;height:34px;background:#17a050;color:#fff;font-size:24px;border-radius:17px;padding-left:14px">Input Range Code Table</div>
<div style="position:absolute;left:113px;top:1684px;font-size:20px">Thermocouple</div>
<div style="position:absolute;left:110px;top:1711px;width:980px;height:2px;background:#222"></div>
<div style="position:absolute;left:1434px;top:1687px;font-size:20px">RTD</div>
<div style="position:absolute;left:1432px;top:1711px;width:320px;height:2px;background:#222"></div>

<table style="left:114px;top:1717px;width:319px">
<tr style="height:23px"><td class="ig" style="width:67px">Input</td><td class="cg" style="width:68px;text-align:center">Code</td><td style="text-align:center">Range</td></tr>
<tr style="height:20.7px"><td class="ig" rowspan="12" style="font-size:28px">K</td><td class="cg">K<span class="dash">35</span></td><td class="rg">-200.0 to&nbsp; +400.0℃</td></tr>
<tr style="height:20.7px"><td class="cg">K<span class="dash">40</span></td><td class="rg">-200.0 to&nbsp; +800.0℃</td></tr>
<tr style="height:20.7px"><td class="cg">K<span class="dash">09</span></td><td class="rg">0.0 to&nbsp;&nbsp;&nbsp; 400.0℃</td></tr>
<tr style="height:20.7px"><td class="cg">K<span class="dash">10</span></td><td class="rg">0.0 to&nbsp;&nbsp;&nbsp; 800.0℃</td></tr>
<tr style="height:20.7px"><td class="cg">K<span class="dash">42</span></td><td class="rg">-200.0 to +1372.0℃</td></tr>
<tr style="height:20.7px"><td class="cg">K<span class="dash">02</span></td><td class="rg">0 to&nbsp;&nbsp;&nbsp;&nbsp;&nbsp;&nbsp; 400℃</td></tr>
<tr style="height:20.7px"><td class="cg">K<span class="dash">04</span></td><td class="rg">0 to&nbsp;&nbsp;&nbsp;&nbsp;&nbsp;&nbsp; 800℃</td></tr>
<tr style="height:20.7px"><td class="cg">K<span class="dash">41</span></td><td class="rg">-200 to&nbsp;&nbsp; +1372℃</td></tr>
<tr style="height:20.7px"><td class="cg">K<span class="dash">C7</span></td><td class="rg">-328 to&nbsp;&nbsp; +2501℉</td></tr>
<tr style="height:20.7px"><td class="cg">K<span class="dash">A4</span></td><td class="rg">0.0 to&nbsp;&nbsp;&nbsp; 800.0℉</td></tr>
<tr style="height:20.7px"><td class="cg">K<span class="dash">A1</span></td><td class="rg">0 to&nbsp;&nbsp;&nbsp;&nbsp;&nbsp;&nbsp; 800℉</td></tr>
<tr style="height:20.7px"><td class="cg">K<span class="dash">A2</span></td><td class="rg">0 to&nbsp;&nbsp;&nbsp;&nbsp;&nbsp; 1600℉</td></tr>
</table>

<table style="left:440px;top:1717px;width:320px">
<tr style="height:23px"><td class="ig" style="width:68px">Input</td><td class="cg" style="width:68px;text-align:center">Code</td><td style="text-align:center">Range</td></tr>
<tr style="height:20.7px"><td class="ig" rowspan="12" style="font-size:28px">J</td><td class="cg">J<span class="dash">27</span></td><td class="rg">-200.0 to&nbsp; +400.0℃</td></tr>
<tr style="height:20.7px"><td class="cg">J<span class="dash">32</span></td><td class="rg">-200.0 to&nbsp; +800.0℃</td></tr>
<tr style="height:20.7px"><td class="cg">J<span class="dash">08</span></td><td class="rg">0.0 to&nbsp;&nbsp;&nbsp; 400.0℃</td></tr>
<tr style="height:20.7px"><td class="cg">J<span class="dash">09</span></td><td class="rg">0.0 to&nbsp;&nbsp;&nbsp; 800.0℃</td></tr>
<tr style="height:20.7px"><td class="cg">J<span class="dash">29</span></td><td class="rg">-200.0 to +1200.0℃</td></tr>
<tr style="height:20.7px"><td class="cg">J<span class="dash">02</span></td><td class="rg">0 to&nbsp;&nbsp;&nbsp;&nbsp;&nbsp;&nbsp; 400℃</td></tr>
<tr style="height:20.7px"><td class="cg">J<span class="dash">04</span></td><td class="rg">0 to&nbsp;&nbsp;&nbsp;&nbsp;&nbsp;&nbsp; 800℃</td></tr>
<tr style="height:20.7px"><td class="cg">J<span class="dash">15</span></td><td class="rg">-200 to&nbsp;&nbsp; +1200℃</td></tr>
<tr style="height:20.7px"><td class="cg">J<span class="dash">B6</span></td><td class="rg">0.0 to&nbsp;&nbsp;&nbsp; 800.0℉</td></tr>
<tr style="height:20.7px"><td class="cg">J<span class="dash">B9</span></td><td class="rg">-328 to&nbsp;&nbsp; +2192℉</td></tr>
<tr style="height:20.7px"><td class="cg">J<span class="dash">A1</span></td><td class="rg">0 to&nbsp;&nbsp;&nbsp;&nbsp;&nbsp;&nbsp; 800℉</td></tr>
<tr style="height:20.7px"><td class="cg">J<span class="dash">A2</span></td><td class="rg">0 to&nbsp;&nbsp;&nbsp;&nbsp;&nbsp; 1600℉</td></tr>
</table>

<table style="left:768px;top:1717px;width:322px">
<tr style="height:23px"><td class="ig" style="width:67px">Input</td><td class="cg" style="width:69px;text-align:center">Code</td><td style="text-align:center">Range</td></tr>
<tr style="height:20.7px"><td class="ig" rowspan="3" style="font-size:28px">T</td><td class="cg">T<span class="dash">19</span></td><td class="rg">-200.0 to&nbsp; +400.0℃</td></tr>
<tr style="height:20.7px"><td class="cg">T<span class="dash">C5</span></td><td class="rg">-328 to&nbsp;&nbsp;&nbsp;&nbsp; +752℉</td></tr>
<tr style="height:20.7px"><td class="cg">T<span class="dash">C6</span></td><td class="rg">0.0 to&nbsp; +752.0℉</td></tr>
<tr style="height:20.7px"><td class="ig" rowspan="2" style="font-size:28px">S</td><td class="cg">S<span class="dash">06</span></td><td class="rg">-50 to&nbsp;&nbsp; +1768℃</td></tr>
<tr style="height:20.7px"><td class="cg">S<span class="dash">A7</span></td><td class="rg">-58 to&nbsp;&nbsp; +3214℉</td></tr>
<tr style="height:20.7px"><td class="ig" rowspan="2" style="font-size:28px">R</td><td class="cg">R<span class="dash">07</span></td><td class="rg">-50 to&nbsp;&nbsp; +1768℃</td></tr>
<tr style="height:20.7px"><td class="cg">R<span class="dash">A7</span></td><td class="rg">-58 to&nbsp;&nbsp; +3214℉</td></tr>
<tr style="height:20.7px"><td class="ig" rowspan="3" style="font-size:28px">E</td><td class="cg">E<span class="dash">20</span></td><td class="rg">-200.0 to+1000.0℃</td></tr>
<tr style="height:20.7px"><td class="cg">E<span class="dash">B2</span></td><td class="rg">0.0 to&nbsp; +800.0℉</td></tr>
<tr style="height:20.7px"><td class="cg">E<span class="dash">B1</span></td><td class="rg">-328 to&nbsp;&nbsp; +1832℉</td></tr>
</table>

<table style="left:1097px;top:1717px;width:326px">
<tr style="height:23px"><td class="ig" style="width:69px">Input</td><td class="cg" style="width:70px;text-align:center">Code</td><td style="text-align:center">Range</td></tr>
<tr style="height:20.6px"><td class="ig" rowspan="2" style="font-size:28px">B</td><td class="cg">B<span class="dash">03</span></td><td class="rg">0 to&nbsp;&nbsp;&nbsp;&nbsp;&nbsp; 1800℃</td></tr>
<tr style="height:20.6px"><td class="cg">B<span class="dash">B1</span></td><td class="rg">32 to&nbsp;&nbsp;&nbsp;&nbsp;&nbsp; 3272℉</td></tr>
<tr style="height:20.6px"><td class="ig" rowspan="2" style="font-size:28px">N</td><td class="cg">N<span class="dash">02</span></td><td class="rg">0 to&nbsp;&nbsp; +1200℃</td></tr>
<tr style="height:20.6px"><td class="cg">N<span class="dash">A6</span></td><td class="rg">32 to&nbsp;&nbsp; +2372℉</td></tr>
<tr style="height:20.6px"><td class="ig" rowspan="2" style="font-size:17px;line-height:18px">PLII<br>(NBS)</td><td class="cg">A<span class="dash">02</span></td><td class="rg">0 to&nbsp;&nbsp;&nbsp;&nbsp; 1390℃</td></tr>
<tr style="height:20.6px"><td class="cg">A<span class="dash">A2</span></td><td class="rg">0 to&nbsp;&nbsp;&nbsp;&nbsp; 2534℉</td></tr>
<tr style="height:20.6px"><td class="ig" rowspan="2" style="font-size:11px;line-height:18px">W5Re/W26Re<br><span style="font-size:15px">(ASTM)</span></td><td class="cg">W<span class="dash">03</span></td><td class="rg">0 to&nbsp;&nbsp;&nbsp;&nbsp; 2300℃</td></tr>
<tr style="height:20.6px"><td class="cg">W<span class="dash">B1</span></td><td class="rg">32 to&nbsp;&nbsp;&nbsp;&nbsp; 4208℉</td></tr>
</table>

<table style="left:1431px;top:1717px;width:326px">
<tr style="height:23px"><td class="ig" style="width:68px">Input</td><td class="cg" style="width:69px;text-align:center">Code</td><td style="text-align:center">Range</td></tr>
<tr style="height:20.6px"><td class="ig" rowspan="4" style="font-size:19px">Pt100</td><td class="cg">D<span class="dash">35</span></td><td class="rg">-200.0&nbsp; to&nbsp; +850.0℃</td></tr>
<tr style="height:20.6px"><td class="cg">D<span class="dash">21</span></td><td class="rg">-200.0&nbsp; to&nbsp; +200.0℃</td></tr>
<tr style="height:20.6px"><td class="cg">D<span class="dash">C6</span></td><td class="rg">-328.0&nbsp; to&nbsp; +752.0℉</td></tr>
<tr style="height:20.6px"><td class="cg">D<span class="dash">D2</span></td><td class="rg">-328&nbsp; to&nbsp;&nbsp;&nbsp; +1562℉</td></tr>
<tr style="height:20.6px"><td class="ig" rowspan="3" style="font-size:19px">JPt100</td><td class="cg">P<span class="dash">30</span></td><td class="rg">-200.0&nbsp; to&nbsp; +640.0℃</td></tr>
<tr style="height:20.6px"><td class="cg">P<span class="dash">C6</span></td><td class="rg">-328.0&nbsp; to&nbsp; +752.0℉</td></tr>
<tr style="height:20.6px"><td class="cg">P<span class="dash">D2</span></td><td class="rg">-328 to&nbsp;&nbsp;&nbsp; +1184℉</td></tr>
</table>

<div style="position:absolute;left:1103px;top:1906px;font-size:20px;white-space:nowrap">DC Current • Voltage</div>
<div style="position:absolute;left:1100px;top:1933px;width:664px;height:2px;background:#222"></div>
<table style="left:1098px;top:1941px;width:326px">
<tr style="height:24px"><td class="ig" style="width:120px">Input</td><td class="cg" style="width:70px;text-align:center">Code</td><td style="text-align:center">Range</td></tr>
<tr style="height:19.5px"><td class="ig" style="text-align:left">0 to 10mV</td><td class="cg">&nbsp;1<span class="dash">01</span></td><td rowspan="4" style="text-align:center">0.0 to 100.0%</td></tr>
<tr style="height:19.5px"><td class="ig" style="text-align:left">0 to 100mV</td><td class="cg">&nbsp;2<span class="dash">01</span></td></tr>
<tr style="height:19.5px"><td class="ig" style="text-align:left">0 to 1V</td><td class="cg">&nbsp;3<span class="dash">01</span></td></tr>
<tr style="height:19.5px"><td class="ig" style="text-align:left">0 to 5V</td><td class="cg">&nbsp;4<span class="dash">01</span></td></tr>
</table>
<table style="left:1436px;top:1941px;width:324px">
<tr style="height:24px"><td class="ig" style="width:130px">Input</td><td class="cg" style="width:69px;text-align:center">Code</td><td style="text-align:center">Range</td></tr>
<tr style="height:19.5px"><td class="ig">0 to 10V</td><td class="cg">&nbsp;5<span class="dash">01</span></td><td rowspan="4" style="text-align:center">0.0 to 100.0%</td></tr>
<tr style="height:19.5px"><td class="ig">1 to 5V</td><td class="cg">&nbsp;6<span class="dash">01</span></td></tr>
<tr style="height:19.5px"><td class="ig">0 to 20mA</td><td class="cg">&nbsp;7<span class="dash">01</span></td></tr>
<tr style="height:19.5px"><td class="ig">4 to 20mA</td><td class="cg">&nbsp;8<span class="dash">01</span></td></tr>
</table>

<!-- BOTTOM BOX -->
<div style="position:absolute;left:104px;top:2057px;width:1669px;height:557px;border:2.5px solid #333;border-radius:40px"></div>
<div style="position:absolute;left:148px;top:2073px;font-size:21px;line-height:26px;white-space:nowrap">•&nbsp; Quick start code 2 tells the factory to ship with each parameter preset to the values detailed as specified by the customer.<br>&nbsp;&nbsp;&nbsp; Quick start code is not necessarily specified when ordering, unless the preset is requested.<br>&nbsp;&nbsp;&nbsp;&nbsp; These parameters are software selectable items and can be re-programmed in the field via the manual.</div>
<div class="c b" style="left:128px;top:2159px;width:284px;height:34px;background:#d8d8d8;border:2px solid #333;border-radius:17px;font-size:24px;padding-left:18px">Quick Start Code 2</div>

<div class="c x" style="left:131px;top:2207px;width:169px;height:84px;background:#e4e4e4;font-size:18px;align-items:flex-start;padding-top:32px">Specifications</div>
<div class="c x" style="left:329px;top:2207px;width:546px;height:84px;background:#e4e4e4;font-size:20px">Quick Start Code 2</div>
<div class="c" style="left:875px;top:2291px;width:29px;height:114px;background:#c4c4c4"></div>
<div class="c" style="left:904px;top:2319px;width:33px;height:86px;background:#e6e6e6"></div>
<div class="c" style="left:937px;top:2348px;width:34px;height:57px;background:#c4c4c4"></div>
<div class="c" style="left:971px;top:2376px;width:33px;height:29px;background:#e6e6e6"></div>
<div class="c" style="left:1004px;top:2291px;width:33px;height:202px;background:#c4c4c4"></div>
<div class="c" style="left:1037px;top:2291px;width:33px;height:307px;background:#e6e6e6"></div>
<div class="cn" style="left:876px;top:2245px;width:20px;height:43px">①</div>
<div class="cn" style="left:909px;top:2245px;width:21px;height:43px">②</div>
<div class="cn" style="left:942px;top:2245px;width:20px;height:43px">③</div>
<div class="cn" style="left:976px;top:2245px;width:20px;height:43px">④</div>
<div class="sep" style="left:998px;top:2252px">-</div>
<div class="cn" style="left:1009px;top:2245px;width:20px;height:43px">⑤</div>
<div class="cn" style="left:1041px;top:2245px;width:21px;height:43px">⑥</div>

<div class="c" style="left:131px;top:2291px;width:169px;height:307px;background:#efefef"></div>
<div class="c s" style="left:131px;top:2291px;width:169px;height:28px;padding-left:18px">Event 1 type</div>
<div class="c s" style="left:131px;top:2319px;width:169px;height:29px;padding-left:18px">Event 2 type</div>
<div class="c s" style="left:131px;top:2348px;width:169px;height:28px;padding-left:18px">Event 3 type</div>
<div class="c s" style="left:131px;top:2376px;width:169px;height:29px;padding-left:18px">Event 4 type</div>
<div class="c s" style="left:131px;top:2405px;width:169px;height:88px;padding-left:18px">CT type</div>
<div class="c s" style="left:131px;top:2493px;width:169px;height:105px;padding-left:18px;line-height:24px">Communication<br>Protocol</div>
<div class="c x" style="left:300px;top:2291px;width:29px;height:28px;font-size:18px">①</div>
<div class="c x" style="left:300px;top:2319px;width:29px;height:29px;font-size:18px">②</div>
<div class="c x" style="left:300px;top:2348px;width:29px;height:28px;font-size:18px">③</div>
<div class="c x" style="left:300px;top:2376px;width:29px;height:29px;font-size:18px">④</div>
<div class="c x" style="left:300px;top:2405px;width:29px;height:88px;font-size:18px">⑤</div>
<div class="c x" style="left:300px;top:2493px;width:29px;height:105px;font-size:18px">⑥</div>
<div class="pill" style="left:332px;top:2295px;width:224px;height:21px;background:#6b6b6b">See Event Type Code Table</div>
<div class="bx" style="left:882px;top:2297px"></div>
<div class="pill" style="left:332px;top:2324px;width:224px;height:21px;background:#6b6b6b">See Event Type Code Table</div>
<div class="bx" style="left:913px;top:2326px"></div>
<div class="pill" style="left:332px;top:2352px;width:224px;height:21px;background:#6b6b6b">See Event Type Code Table</div>
<div class="bx" style="left:947px;top:2354px"></div>
<div class="pill" style="left:332px;top:2381px;width:224px;height:21px;background:#6b6b6b">See Event Type Code Table</div>
<div class="bx" style="left:980px;top:2383px"></div>
<div class="c d" style="left:329px;top:2405px;width:675px;height:29px">No CT input</div>
<div class="c k" style="left:1004px;top:2405px;width:33px;height:29px">N</div>
<div class="c d" style="left:329px;top:2434px;width:675px;height:30px">CTL-6-P-N</div>
<div class="c k" style="left:1004px;top:2434px;width:33px;height:30px">P</div>
<div class="c d" style="left:329px;top:2464px;width:675px;height:29px">CTL-12-S56-10L-N</div>
<div class="c k" style="left:1004px;top:2464px;width:33px;height:29px">S</div>
<div class="c d" style="left:329px;top:2493px;width:708px;height:26px">ANSI/RKC standard protocol</div>
<div class="c k" style="left:1037px;top:2493px;width:33px;height:26px">1</div>
<div class="c d" style="left:329px;top:2519px;width:708px;height:26px">MODBUS protocol</div>
<div class="c k" style="left:1037px;top:2519px;width:33px;height:26px">2</div>
<div class="c d" style="left:329px;top:2545px;width:708px;height:27px;font-size:17px">PLC special protocol (MAPMAN) (Mitsubishi MELSEC A/Q series) • Only Z-TIO-C/D</div>
<div class="c k" style="left:1037px;top:2545px;width:33px;height:27px">3</div>
<div class="c d" style="left:329px;top:2572px;width:708px;height:26px;font-size:17px">PLC special protocol (MAPMAN) (Mitsubishi MELSEC FX series)&nbsp; • Only Z-TIO-C/D</div>
<div class="c k" style="left:1037px;top:2572px;width:33px;height:26px">5</div>
<div class="hl" style="left:131px;top:2290px;width:939px"></div>
<div class="hl" style="left:131px;top:2318px;width:744px"></div>
<div class="hl" style="left:131px;top:2347px;width:773px"></div>
<div class="hl" style="left:131px;top:2375px;width:806px"></div>
<div class="hl" style="left:131px;top:2404px;width:873px"></div>
<div class="hl" style="left:131px;top:2492px;width:939px"></div>
<div style="position:absolute;left:329px;top:2434px;width:708px;border-top:1.5px dotted #555"></div>
<div style="position:absolute;left:329px;top:2464px;width:708px;border-top:1.5px dotted #555"></div>
<div style="position:absolute;left:329px;top:2519px;width:741px;border-top:1.5px dotted #555"></div>
<div style="position:absolute;left:329px;top:2545px;width:741px;border-top:1.5px dotted #555"></div>
<div style="position:absolute;left:329px;top:2572px;width:741px;border-top:1.5px dotted #555"></div>
<div style="position:absolute;left:300px;top:2207px;width:1.5px;height:391px;background:#333"></div>
<div style="position:absolute;left:329px;top:2207px;width:1.5px;height:391px;background:#333"></div>
<div style="position:absolute;left:128px;top:2204px;width:945px;height:397px;border:3px solid #222"></div>

<div class="c b" style="left:1079px;top:2163px;width:325px;height:34px;background:#6b6b6b;color:#fff;font-size:24px;border-radius:17px;padding-left:20px">Event Type Code Table</div>
<table style="left:1079px;top:2203px;width:312px;border:3px solid #111;font-size:16px">
<tr style="height:29px"><td style="background:#d9d9d9;text-align:center;font-size:18px">Event Type</td><td style="background:#d9d9d9;width:55px;text-align:center">Code</td></tr>
<tr style="height:25px"><td>No event</td><td class="cg" style="text-align:center">N</td></tr>
<tr style="height:25px"><td>Deviation High</td><td class="cg" style="text-align:center">A</td></tr>
<tr style="height:25px"><td>Deviation Low</td><td class="cg" style="text-align:center">B</td></tr>
<tr style="height:25px"><td>Deviation High/Low</td><td class="cg" style="text-align:center">C</td></tr>
<tr style="height:25px"><td>Band</td><td class="cg" style="text-align:center">D</td></tr>
<tr style="height:25px"><td>Deviation High with Alarm Hold</td><td class="cg" style="text-align:center">E</td></tr>
<tr style="height:25px"><td>Deviation Low with Alarm Hold</td><td class="cg" style="text-align:center">F</td></tr>
<tr style="height:25px"><td style="font-size:14px">Deviation High/Low with Alarm Hold</td><td class="cg" style="text-align:center">G</td></tr>
<tr style="height:25px"><td>Process High</td><td class="cg" style="text-align:center">H</td></tr>
<tr style="height:25px"><td>Process Low</td><td class="cg" style="text-align:center">J</td></tr>
<tr style="height:25px"><td style="font-size:15px">Process High with Alarm Hold</td><td class="cg" style="text-align:center">K</td></tr>
<tr style="height:25px"><td style="font-size:15px">Process Low with Alarm Hold</td><td class="cg" style="text-align:center">L</td></tr>
</table>
<table style="left:1398px;top:2203px;width:361px;border:3px solid #111;font-size:16px">
<tr style="height:29px"><td style="background:#d9d9d9;text-align:center;font-size:18px">Event Type</td><td style="background:#d9d9d9;width:56px;text-align:center">Code</td></tr>
<tr style="height:24.6px"><td style="font-size:14px">Deviation High with Alarm Re-Hold</td><td class="cg" style="text-align:center">Q</td></tr>
<tr style="height:24.6px"><td style="font-size:15px">Deviation Low with Alarm Re-Hold</td><td class="cg" style="text-align:center">R</td></tr>
<tr style="height:24.6px"><td style="font-size:13.5px">Deviation High/Low with Alarm Re-Hold</td><td class="cg" style="text-align:center">T</td></tr>
<tr style="height:24.6px"><td>Set value High</td><td class="cg" style="text-align:center">V</td></tr>
<tr style="height:24.6px"><td>Set value Low</td><td class="cg" style="text-align:center">W</td></tr>
<tr style="height:24.6px"><td>MV value High</td><td class="cg" style="text-align:center">1</td></tr>
<tr style="height:24.6px"><td>MV value Low</td><td class="cg" style="text-align:center">2</td></tr>
<tr style="height:24.6px"><td>Cool side MV value High</td><td class="cg" style="text-align:center">3</td></tr>
<tr style="height:24.6px"><td>Cool side MV value Low</td><td class="cg" style="text-align:center">4</td></tr>
<tr style="height:24.6px"><td>LBA (Loop break alarm)<span style="float:right;font-size:12px">1</span></td><td class="cg" style="text-align:center">5</td></tr>
<tr style="height:24.6px"><td>Temperature rise completion<span style="float:right;font-size:12px">2</span></td><td class="cg" style="text-align:center">6</td></tr>
</table>
<div style="position:absolute;left:1404px;top:2506px;font-size:17px;line-height:21px;white-space:nowrap"><sup style="font-size:11px">1</sup> LBA is available with event 4 only.<br><sup style="font-size:11px">2</sup> Temperature rise completion is<br>&nbsp;&nbsp; available with event 3 only.</div>

<div style="position:absolute;left:68px;top:2600px;font-size:20px">8</div>
<div style="position:absolute;left:61px;top:2625px;width:28px;height:7px;background:#2f62b0"></div>
<svg style="position:absolute;left:0;top:2620px" width="80" height="95"><line x1="62" y1="6" x2="0" y2="84" stroke="#666" stroke-width="1"/></svg>

</body></html>
